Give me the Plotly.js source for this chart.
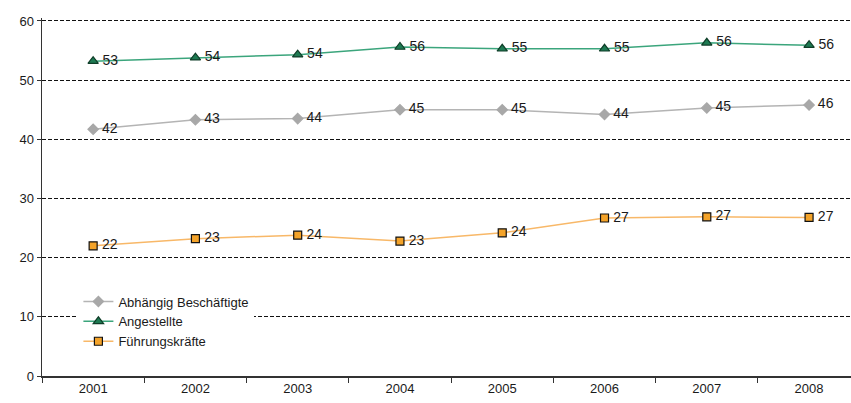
<!DOCTYPE html>
<html><head><meta charset="utf-8">
<script src="https://cdn.plot.ly/plotly-3.0.1.min.js"></script>
<style>html,body{margin:0;padding:0;background:#fff}#c{width:851px;height:403px}</style>
</head><body><div id="c"></div>
<script>
const years = ["2001","2002","2003","2004","2005","2006","2007","2008"];
const abhaengig = [41.7, 43.3, 43.5, 45.0, 45.0, 44.2, 45.3, 45.8];
const angestellte = [53.2, 53.8, 54.3, 55.6, 55.3, 55.3, 56.3, 55.9];
const fuehrung = [22.0, 23.2, 23.8, 22.8, 24.2, 26.7, 26.9, 26.8];
const names = ["Abhängig Beschäftigte", "Angestellte", "Führungskräfte"];
const yTicks = [0, 10, 20, 30, 40, 50, 60];

const font = {family: "Liberation Sans, Arial, sans-serif", size: 13, color: "#1a1a1a"};
function tr(name, y, lineColor, sym, fill, outline, size) {
  return {
    type: "scatter", mode: "lines+markers+text", name: name,
    x: years, y: y,
    text: y.map(v => "\u2009" + String(Math.round(v))),
    textposition: "middle right",
    textfont: {family: font.family, size: 14, color: "#1a1a1a"},
    line: {color: lineColor, width: 1.5},
    marker: {symbol: sym, color: fill, size: size, line: {color: outline, width: 1.2}},
    cliponaxis: false
  };
}
const data = [
  tr(names[0], abhaengig, "#b4b4b4", "diamond", "#a8a8a8", "#a8a8a8", 8),
  tr(names[1], angestellte, "#3ba57c", "triangle-up", "#1e7a52", "#0f3d28", 9),
  tr(names[2], fuehrung, "#f8b868", "square", "#f4a329", "#111111", 8)
];
const layout = {
  width: 851, height: 403,
  margin: {l: 42, r: 0, t: 18, b: 27},
  paper_bgcolor: "#fff", plot_bgcolor: "#fff",
  font: font,
  showlegend: true,
  legend: {x: 0.045, y: 0.25, xanchor: "left", yanchor: "top",
           bgcolor: "#ffffff", font: {family: font.family, size: 13, color: "#1a1a1a"},
           tracegroupgap: 0, itemwidth: 30},
  xaxis: {type: "category", range: [-0.5, 7.41], tickson: "boundaries",
          ticks: "outside", ticklen: 5, tickcolor: "#333", showline: true, linecolor: "#333",
          linewidth: 1.5, showgrid: false, zeroline: false, tickfont: font, fixedrange: true},
  yaxis: {range: [0, 60.5], tickvals: yTicks, ticktext: yTicks.map(String),
          ticks: "outside", ticklen: 4, tickcolor: "#333", showline: true, linecolor: "#333",
          linewidth: 1.5, showgrid: true, gridcolor: "#111", gridwidth: 1, griddash: "4px,2px",
          zeroline: false, tickfont: font, fixedrange: true}
};
Plotly.newPlot("c", data, layout, {displayModeBar: false, staticPlot: true});
</script>
</body></html>
